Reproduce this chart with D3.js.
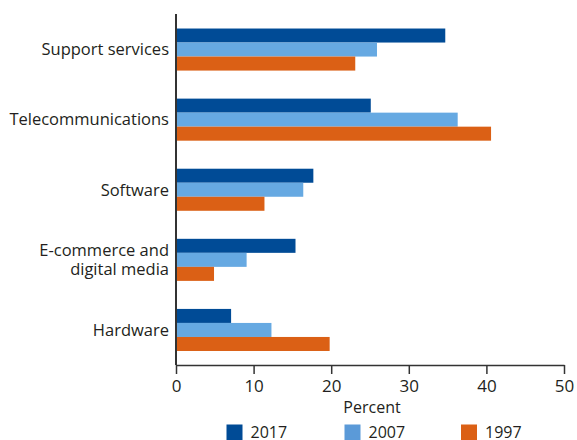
<!DOCTYPE html>
<html><head><meta charset="utf-8">
<script src="https://cdn.jsdelivr.net/npm/d3@7"></script>
<style>body{margin:0;background:#fff;} text{font-family:"Open Sans",sans-serif;fill:#231f20;}</style>
</head><body>
<svg id="c" width="577" height="440"></svg>
<script>
const categories = ["Support services","Telecommunications","Software","E-commerce and\ndigital media","Hardware"];
const years = ["2017","2007","1997"];
const v2017 = [34.7, 25.1, 17.7, 15.4, 7.1];
const v2007 = [25.9, 36.3, 16.4, 9.1, 12.3];
const v1997 = [23.1, 40.6, 11.4, 4.9, 19.8];
const xTicks = [0,10,20,30,40,50];
const colors = ["#004b96","#66a9e2","#db6015"];
const legendColors = ["#004b96","#5b9ad8","#db6015"];

const series = [v2017, v2007, v1997];
const svg = d3.select("#c");
const x = d3.scaleLinear().domain([0,50]).range([176,564]);
const y = d3.scaleBand().domain(categories).range([14.5,365]).paddingInner(0.4).paddingOuter(0.2);
const y1 = d3.scaleBand().domain(years).range([0,y.bandwidth()]);

categories.forEach((c,i)=>{
  years.forEach((yr,j)=>{
    svg.append("rect")
      .attr("x",x(0)).attr("y",y(c)+y1(yr))
      .attr("width",x(series[j][i])-x(0)).attr("height",y1.bandwidth())
      .attr("fill",colors[j]);
  });
  const lines = c.split("\n");
  const cy = y(c)+y.bandwidth()/2;
  const t = svg.append("text").attr("text-anchor","end").attr("font-size",16.5);
  lines.forEach((l,k)=>{
    t.append("tspan").attr("x",169).attr("y",cy + (k-(lines.length-1)/2)*19).attr("dy","0.35em").text(l);
  });
});

// y axis line
svg.append("line").attr("x1",176).attr("x2",176).attr("y1",14).attr("y2",365).attr("stroke","#333").attr("stroke-width",2);

const xa = svg.append("g").attr("transform","translate(0,365)")
  .call(d3.axisBottom(x).tickValues(xTicks).tickSize(9).tickSizeOuter(0).tickPadding(6));
xa.select(".domain").attr("stroke","#333").attr("stroke-width",1.5);
xa.selectAll(".tick line").attr("stroke","#333").attr("stroke-width",1.5);
xa.selectAll(".tick text").attr("font-size",17).attr("font-family","Open Sans, sans-serif").attr("fill","#231f20");

svg.append("text").attr("x",372).attr("y",407).attr("dy","0.35em").attr("text-anchor","middle").attr("font-size",16).text("Percent");

const lx = [226.5,344.5,461];
years.forEach((yr,j)=>{
  svg.append("rect").attr("x",lx[j]).attr("y",424.5).attr("width",16).attr("height",16).attr("fill",legendColors[j]);
  svg.append("text").attr("x",lx[j]+24).attr("y",432.5).attr("dy","0.35em").attr("font-size",16).text(yr);
});
</script>
</body></html>
